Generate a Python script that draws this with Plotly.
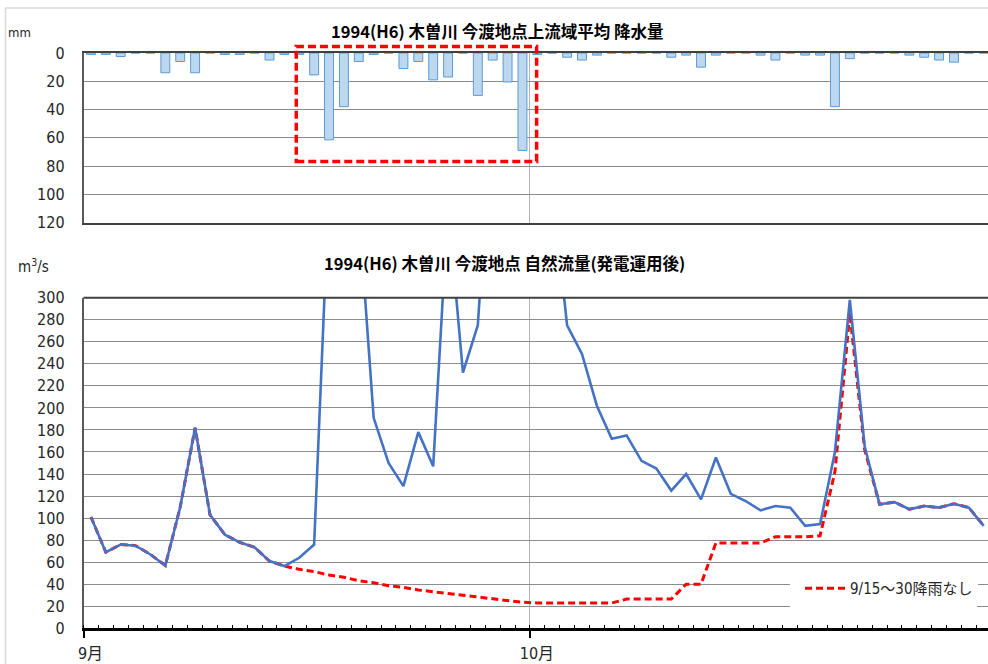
import pandas as pd
import plotly.graph_objects as go

# ---- data: Kiso River, Imawatari, Sep 1 - Oct 31, 1994 ----
dates = pd.date_range("1994-09-01", "1994-10-31", freq="D")
day_index = list(range(len(dates)))

# basin-average daily rainfall upstream of Imawatari (mm)
rain_mm = [1, 1, 2.5, 0, 0, 14, 6, 14, 0, 1,
           1, 0, 5, 1, 1, 15.5, 61.5, 38, 6, 1,
           0, 11, 6, 19, 17, 0, 30, 5, 20.5, 69,
           1, 0, 3, 5, 1.5, 0, 0, 0, 0, 3,
           1.5, 10, 1.5, 0, 0, 1.5, 5, 0, 1.5, 1.5,
           38, 4, 0, 0, 0, 1.5, 3, 5, 6.5, 0,
           0]

# natural flow after power-generation operation (m3/s)
flow_actual = [101, 69, 76, 75, 67, 57, 110, 182, 103, 85,
               78, 73.5, 61, 56.5, 64, 76, 400, 800, 380, 191,
               150, 129, 178, 147, 384, 232, 275, 430, 650, 900,
               700, 400, 275, 249, 202, 172, 175, 152, 145, 125,
               140, 117, 155, 122, 115.5, 107, 111, 109.5, 93, 94.5,
               160, 298, 165, 112.5, 114.5, 108, 111, 109.5, 113, 109.5,
               93]

# flow assuming no rain between 9/15 and 9/30 (m3/s)
flow_no_rain = [101, 69, 76, 75, 67, 57, 110, 182, 103, 85,
                78, 73.5, 61, 56.5, 53.5, 51.4, 48.4, 46.3, 43.2, 41.4,
                38.7, 37.2, 34.8, 33.2, 31.7, 30.2, 28.1, 26.6, 24.8, 23.6,
                23, 23, 23, 23, 23, 23, 26.5, 26.5, 26.5, 26.5,
                40, 40, 77.5, 77.5, 77.5, 77.5, 83, 83, 83, 84,
                142, 286, 162, 112.5, 114.5, 108, 111, 109.5, 113, 109.5,
                93]

month_ticks = ["9月", "10月"]
no_rain_label = "9/15～30降雨なし"
title_rain = "1994(H6) 木曽川 今渡地点上流域平均 降水量"
title_flow = "1994(H6) 木曽川 今渡地点 自然流量(発電運用後)"

# ---- layout helpers (pixel -> paper fractions) ----
W, H = 988, 664
def fx(p):
    return p / W
def fy(p):
    return 1 - p / H

NUM_FONT = "Liberation Sans Narrow, DejaVu Sans Condensed, Noto Sans CJK JP, sans-serif"
CJK_FONT = "Noto Sans CJK JP, sans-serif"
TXT = "#262626"
GRID = "#8C8C8C"

month_starts = [i - 0.5 for i, d in zip(day_index, dates) if d.day == 1]
day_edges = [i - 0.5 for i in day_index] + [day_index[-1] + 0.5]
x_range = [-0.5, -0.5 + (W - 83.5) / 14.88]

fig = go.Figure()

fig.add_trace(go.Bar(
    x=day_index, y=rain_mm, xaxis="x2", yaxis="y2",
    marker=dict(color="#BDD7EE", line=dict(color="#5B9BD5", width=1)),
    showlegend=False, hoverinfo="skip",
))

fig.add_trace(go.Scatter(
    x=day_index, y=flow_no_rain, mode="lines", name=no_rain_label,
    line=dict(color="#FF0000", width=3, dash="7px,4px"),
    xaxis="x", yaxis="y",
))
fig.add_trace(go.Scatter(
    x=day_index, y=flow_actual, mode="lines", name="自然流量",
    line=dict(color="#4472C4", width=2.6),
    xaxis="x", yaxis="y", showlegend=False,
))

fig.update_layout(
    width=W, height=H,
    margin=dict(l=0, r=0, t=0, b=0, autoexpand=False),
    paper_bgcolor="white", plot_bgcolor="white",
    bargap=0.4,
    font=dict(family=NUM_FONT, size=16, color=TXT),
    xaxis=dict(
        domain=[fx(83.5), 1], range=x_range, anchor="y", automargin=False,
        tickmode="array", tickvals=month_starts, ticktext=month_ticks,
        ticks="outside", ticklen=7, tickwidth=1.5, tickcolor="black",
        ticklabelshift=7, ticklabelstandoff=2,
        showline=True, linecolor="black", linewidth=2.5,
        showgrid=True, gridcolor="#B3B3B3", gridwidth=1, zeroline=False,
        tickfont=dict(family=NUM_FONT, size=16, color=TXT),
        minor=dict(tickmode="array", tickvals=day_edges, ticks="inside",
                   ticklen=4, tickwidth=1, tickcolor="black", showgrid=False),
    ),
    yaxis=dict(
        domain=[fy(628.3), fy(297.7)], range=[0, 300], dtick=20, automargin=False,
        showline=True, linecolor="#595959", linewidth=1.5,
        showgrid=True, gridcolor=GRID, gridwidth=1.2, zeroline=False,
        ticks="", ticklabelstandoff=14,
        tickfont=dict(family=NUM_FONT, size=16, color=TXT),
    ),
    xaxis2=dict(
        domain=[fx(83.5), 1], range=x_range, anchor="y2", matches="x",
        automargin=False,
        tickmode="array", tickvals=month_starts, showticklabels=False,
        ticks="", showline=True, mirror=True, linecolor="#404040", linewidth=2,
        showgrid=True, gridcolor="#B3B3B3", gridwidth=1, zeroline=False,
    ),
    yaxis2=dict(
        domain=[fy(222.5), fy(53)], range=[120, 0], dtick=20, automargin=False,
        showline=True, linecolor="#595959", linewidth=1.5,
        showgrid=True, gridcolor=GRID, gridwidth=1.2, zeroline=False,
        ticks="", ticklabelstandoff=14,
        tickfont=dict(family=NUM_FONT, size=16, color=TXT),
    ),
    legend=dict(
        x=fx(800), y=fy(572), xanchor="left", yanchor="top",
        bgcolor="white", borderwidth=0, itemwidth=40,
        font=dict(family=NUM_FONT, size=15, color=TXT),
    ),
    showlegend=True,
)

# chart frame, top edge of the flow panel, legend backdrop, highlight box
fig.add_shape(type="rect", xref="paper", yref="paper",
              x0=fx(5.5), x1=1.02, y0=-0.02, y1=fy(8),
              line=dict(color="#D9D9D9", width=1.5), layer="below")
fig.add_shape(type="line", xref="paper", yref="y domain",
              x0=fx(83.5), x1=1, y0=1, y1=1,
              line=dict(color="#404040", width=2))
fig.add_shape(type="rect", xref="paper", yref="paper",
              x0=fx(790), x1=fx(977), y0=fy(613), y1=fy(568),
              fillcolor="white", line=dict(width=0), layer="above")
fig.add_shape(type="rect", xref="x2", yref="paper",
              x0=13.8, x1=29.95, y0=fy(161.5), y1=fy(46.5),
              line=dict(color="#FF0000", width=3.5, dash="8px,4px"),
              fillcolor="rgba(0,0,0,0)", layer="above")

# titles and unit labels
fig.add_annotation(text=title_rain, xref="paper", yref="paper",
                   x=fx(497), y=fy(31), xanchor="center", yanchor="middle",
                   showarrow=False,
                   font=dict(family=CJK_FONT, size=16.5, color="black", weight="bold"))
fig.add_annotation(text=title_flow, xref="paper", yref="paper",
                   x=fx(505), y=fy(263), xanchor="center", yanchor="middle",
                   showarrow=False,
                   font=dict(family=CJK_FONT, size=16.5, color="black", weight="bold"))
fig.add_annotation(text="mm", xref="paper", yref="paper",
                   x=fx(19), y=fy(32), xanchor="center", yanchor="middle",
                   showarrow=False,
                   font=dict(family=NUM_FONT, size=13, color=TXT))
fig.add_annotation(text="m<sup>3</sup>/s", xref="paper", yref="paper",
                   x=fx(33), y=fy(266), xanchor="center", yanchor="middle",
                   showarrow=False,
                   font=dict(family=NUM_FONT, size=15, color=TXT))

fig.write_html("out.html")
